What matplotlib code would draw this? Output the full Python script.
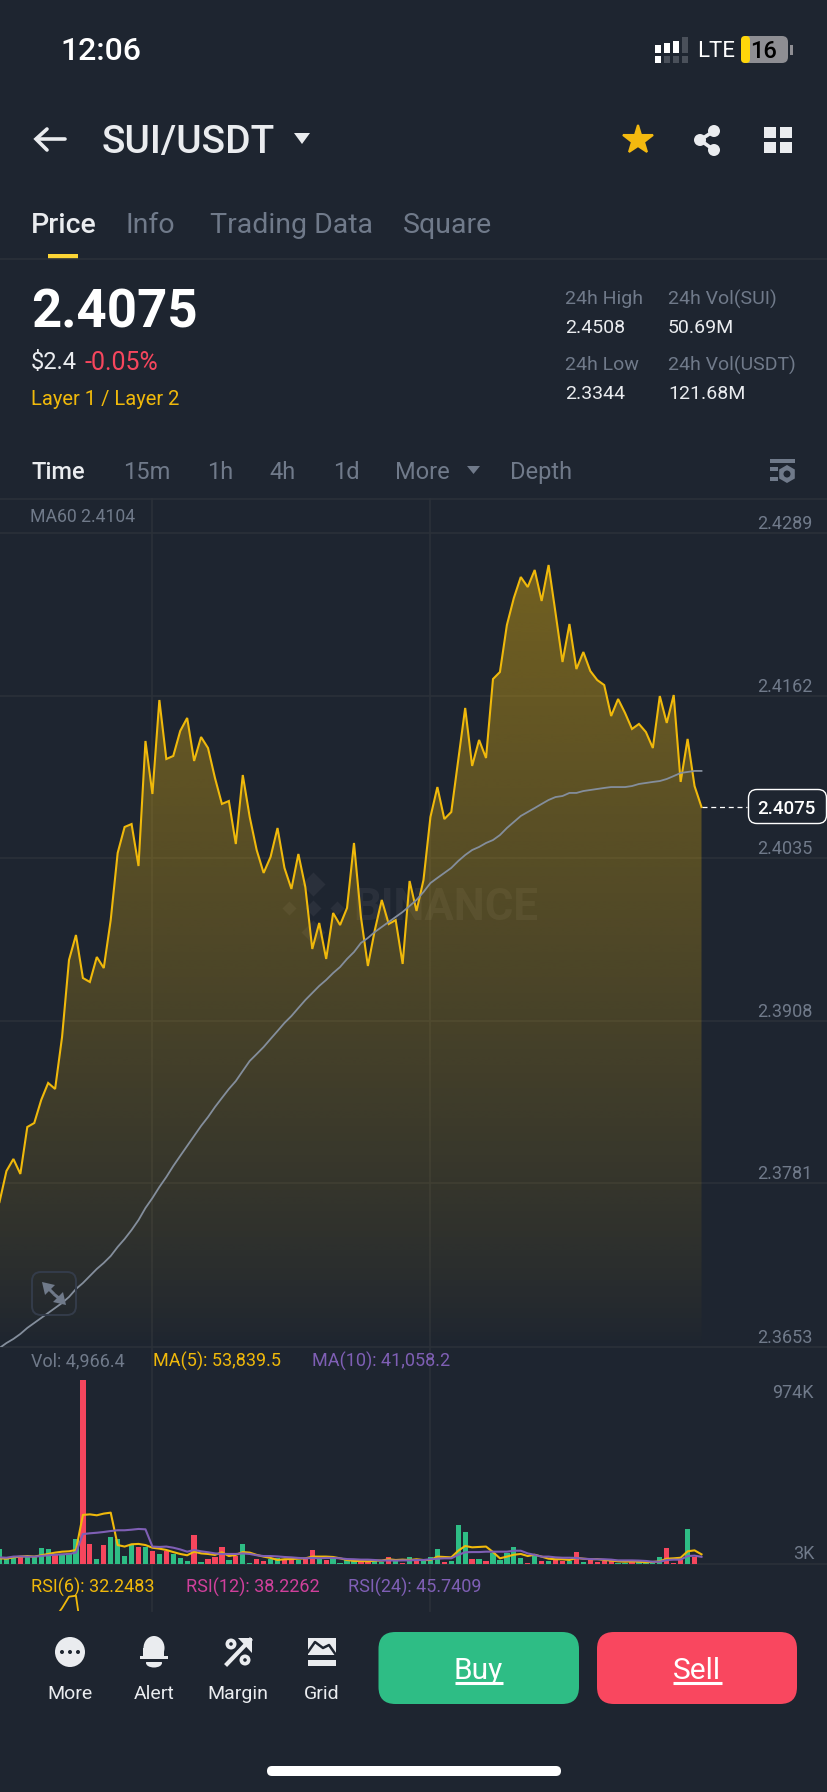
import numpy as np
import matplotlib
matplotlib.use("Agg")
import matplotlib.pyplot as plt
from matplotlib.patches import FancyBboxPatch, Rectangle, Circle, Ellipse, Polygon, RegularPolygon

# values
price = [
    2.37663, 2.37905, 2.37999, 2.37882, 2.38249, 2.38280, 2.38460, 2.38593, 2.38546, 2.38952,
    2.39554, 2.39749, 2.39413, 2.39382, 2.39577, 2.39491, 2.39866, 2.40390, 2.40593, 2.40616,
    2.40288, 2.41265, 2.40851, 2.41585, 2.41124, 2.41148, 2.41343, 2.41445, 2.41109, 2.41296,
    2.41210, 2.40976, 2.40773, 2.40796, 2.40460, 2.40999, 2.40671, 2.40413, 2.40234, 2.40359,
    2.40585, 2.40273, 2.40109, 2.40382, 2.40124, 2.39640, 2.39843, 2.39562, 2.39921, 2.39827,
    2.39960, 2.40468, 2.39890, 2.39507, 2.39788, 2.40023, 2.39835, 2.39866, 2.39523, 2.40171,
    2.39937, 2.40179, 2.40671, 2.40905, 2.40655, 2.40710, 2.41116, 2.41523, 2.41070, 2.41273,
    2.41132, 2.41749, 2.41804, 2.42171, 2.42382, 2.42546, 2.42468, 2.42601, 2.42359, 2.42640,
    2.42265, 2.41882, 2.42179, 2.41827, 2.41960, 2.41812, 2.41741, 2.41702, 2.41460, 2.41593,
    2.41484, 2.41359, 2.41398, 2.41335, 2.41210, 2.41616, 2.41406, 2.41624, 2.40945, 2.41281,
    2.40913, 2.40749,
]
ma60 = [
    2.36522, 2.36561, 2.36593, 2.36632, 2.36679, 2.36718, 2.36757, 2.36796, 2.36835, 2.36874,
    2.36921, 2.36983, 2.37030, 2.37085, 2.37140, 2.37187, 2.37241, 2.37312, 2.37374, 2.37444,
    2.37522, 2.37616, 2.37694, 2.37780, 2.37858, 2.37944, 2.38023, 2.38101, 2.38179, 2.38257,
    2.38327, 2.38405, 2.38476, 2.38546, 2.38608, 2.38687, 2.38765, 2.38819, 2.38874, 2.38937,
    2.38999, 2.39062, 2.39116, 2.39179, 2.39241, 2.39296, 2.39351, 2.39398, 2.39452, 2.39499,
    2.39562, 2.39616, 2.39687, 2.39726, 2.39773, 2.39812, 2.39851, 2.39890, 2.39929, 2.39976,
    2.40023, 2.40085, 2.40155, 2.40195, 2.40234, 2.40273, 2.40327, 2.40374, 2.40413, 2.40437,
    2.40468, 2.40491, 2.40530, 2.40585, 2.40632, 2.40679, 2.40710, 2.40741, 2.40773, 2.40804,
    2.40827, 2.40835, 2.40859, 2.40859, 2.40874, 2.40882, 2.40890, 2.40898, 2.40905, 2.40905,
    2.40905, 2.40913, 2.40929, 2.40937, 2.40945, 2.40952, 2.40968, 2.40991, 2.41015, 2.41023,
    2.41031, 2.41031,
]
# volume in thousands
volume = [
    80, 28, 45, 38, 38, 38, 86, 80, 51, 51,
    59, 135, 974, 107, 28, 103, 146, 137, 47, 109,
    95, 91, 73, 58, 73, 54, 36, 17, 156, 15,
    31, 40, 95, 26, 45, 109, 6, 31, 19, 28,
    33, 24, 28, 24, 28, 75, 31, 24, 33, 10,
    24, 17, 15, 17, 19, 15, 38, 21, 6, 38,
    21, 22, 38, 80, 14, 19, 207, 170, 29, 29,
    17, 59, 24, 59, 91, 35, 10, 56, 17, 19,
    28, 21, 21, 68, 14, 22, 15, 21, 17, 6,
    6, 15, 14, 6, 8, 38, 89, 6, 24, 188,
    42, 5,
]
vol_side = list("gggrggggrggg" "rrgrggggrgrg" "rgggrgrrrgrg" "grrggrrgrrgr"
                "ggggrrggrgrg" "rgggrgggrgrg" "ggggrgrgrrgr" "grrrrggrgggg" "rrrgrr")
vol_ma5 = [
    33, 31, 38, 42, 45, 42, 49, 56, 63, 68,
    70, 77, 262, 265, 260, 269, 274, 103, 95, 107,
    109, 103, 89, 84, 77, 66, 56, 49, 68, 59,
    56, 51, 65, 45, 51, 66, 63, 51, 42, 35,
    24, 28, 29, 31, 33, 42, 42, 42, 40, 33,
    24, 19, 19, 17, 21, 21, 28, 24, 26, 24,
    28, 24, 24, 42, 40, 38, 73, 98, 91, 93,
    95, 66, 33, 42, 52, 56, 45, 52, 42, 31,
    28, 28, 24, 35, 31, 28, 29, 24, 21, 17,
    15, 17, 15, 12, 14, 17, 31, 33, 36, 70,
    75, 54,
]
vol_ma10 = [
    38, 36, 42, 43, 42, 42, 45, 49, 52, 54,
    56, 63, 161, 165, 168, 172, 177, 181, 181, 184,
    188, 186, 95, 93, 95, 89, 80, 68, 77, 70,
    65, 59, 56, 56, 56, 59, 56, 49, 45, 45,
    43, 40, 38, 35, 33, 35, 33, 35, 35, 33,
    29, 28, 26, 26, 24, 21, 22, 21, 22, 22,
    24, 24, 28, 31, 33, 33, 51, 65, 66, 66,
    68, 68, 68, 68, 73, 73, 59, 51, 42, 42,
    38, 36, 36, 35, 31, 29, 28, 28, 26, 22,
    22, 22, 21, 19, 15, 15, 24, 26, 26, 45,
    47, 41,
]
rsi6_idx = [8, 9, 10, 11, 12]
rsi6 = [71, 81, 93, 94, 44]

price_ticks = [2.4289, 2.4162, 2.4035, 2.3908, 2.3781, 2.3653]
price_tick_labels = ["2.4289", "2.4162", "2.4035", "2.3908", "2.3781", "2.3653"]

tabs = ["Price", "Info", "Trading Data", "Square"]
intervals = ["Time", "15m", "1h", "4h", "1d", "More", "Depth"]
tools = ["More", "Alert", "Margin", "Grid"]

W, H = 828, 1792
BG = "#1E2530"
GRID = "#2B3139"
YELLOW = "#F0B90B"
GREEN = "#2EBD85"
RED = "#F6465D"
WHITE = "#EAECEF"
GRAY = "#707A8A"
PURPLE = "#7F5FB5"
PINK = "#D0409C"

plt.rcParams["font.family"] = ["Roboto", "DejaVu Sans"]

fig = plt.figure(figsize=(W / 100, H / 100), dpi=100, facecolor=BG)


def px_axes(top, bottom, z):
    a = fig.add_axes([0, 1 - bottom / H, 1, (bottom - top) / H], zorder=z)
    a.patch.set_alpha(0)
    for s in a.spines.values():
        s.set_visible(False)
    a.tick_params(length=0, labelleft=False, labelbottom=False)
    return a


ui = fig.add_axes([0, 0, 1, 1], zorder=0)
ui.set_xlim(0, W)
ui.set_ylim(H, 0)
ui.axis("off")


def label(x, y, s, size=13, color=WHITE, ha="left", weight="normal", z=5):
    # centre of the glyphs sits a bit below the centre of the text box
    ui.text(x, y + size * 0.1, s, fontsize=size, color=color, ha=ha, va="center", fontweight=weight, zorder=z)


def rbox(x0, y0, x1, y1, r, **kw):
    b = FancyBboxPatch((x0 + r, y0 + r), x1 - x0 - 2 * r, y1 - y0 - 2 * r,
                       boxstyle="round,pad=%f" % r, **kw)
    ui.add_patch(b)


# status bar
label(60, 49, "12:06", size=23, color="white", weight="medium")
for bx, top in zip([655, 664, 673], [45, 43, 41]):
    ui.add_patch(Rectangle((bx, top), 6, 53 - top, fc="white", ec="none"))
ui.add_patch(Rectangle((682, 37), 6, 16, fc="#4A505A", ec="none"))
ui.add_patch(Rectangle((655, 56), 6, 7, fc="white", ec="none"))
for bx in [664, 673, 682]:
    ui.add_patch(Rectangle((bx, 56), 6, 7, fc="#4A505A", ec="none"))
label(697, 50, "LTE", size=16, color="white")
rbox(741, 36, 788, 63, 6, fc="#8E8E93", ec="none")
rbox(741, 36, 750, 63, 4, fc="#FFD60A", ec="none")
label(764, 50, "16", size=17, color="black", ha="center", weight="medium")
ui.add_patch(Rectangle((790, 45), 3, 10, fc="#8E8E93", ec="none"))

# header
ui.plot([37, 65], [139, 139], color=WHITE, lw=2.6, solid_capstyle="round")
ui.plot([47, 36, 47], [129, 139, 150], color=WHITE, lw=2.6, solid_joinstyle="miter", solid_capstyle="round")
label(102, 140, "SUI/USDT", size=28, weight="medium")
ui.add_patch(Polygon([(294, 133), (310, 133), (302, 144)], fc=WHITE, ec="none"))
ui.plot([638], [140], marker="*", ms=22, color="#F3B90F", mec="#F3B90F", mew=1.5, mfc="#F3B90F", ls="none")
ui.plot([714, 700, 714], [131, 140, 150], color=WHITE, lw=2.6)
for cx, cy in [(714, 131), (700, 140), (714, 150)]:
    ui.add_patch(Circle((cx, cy), 6, fc=WHITE, ec="none"))
for sx in [764, 780]:
    for sy in [127, 142]:
        ui.add_patch(Rectangle((sx, sy), 12.5, 11.5, fc=WHITE, ec="none"))

# tabs
for s, tx in zip(tabs, [31, 126, 210, 403]):
    label(tx, 223, s, size=20.5, color=WHITE if s == "Price" else GRAY, weight="medium" if s == "Price" else "normal")
ui.add_patch(Rectangle((48, 254), 30, 5, fc="#FCD535", ec="none"))
ui.plot([0, W], [259.5, 259.5], color=GRID, lw=1.2)

# ticker block
label(31, 309, "2.4075", size=38, color="white", weight="bold")
label(31, 361, "$2.4", size=17, color=WHITE)
label(85, 361, "-0.05%", size=18, color=RED)
label(31, 398, "Layer 1 / Layer 2", size=14.5, color=YELLOW)
label(565, 298, "24h High", size=14, color=GRAY)
label(668, 298, "24h Vol(SUI)", size=14, color=GRAY)
label(565, 327, "2.4508", size=14)
label(668, 327, "50.69M", size=14)
label(565, 364, "24h Low", size=14, color=GRAY)
label(668, 364, "24h Vol(USDT)", size=14, color=GRAY)
label(565, 393, "2.3344", size=14)
label(668, 393, "121.68M", size=14)

# interval row
for s, tx in zip(intervals, [32, 123, 207, 269, 333, 395, 510]):
    label(tx, 471, s, size=17, color=WHITE if s == "Time" else GRAY, weight="medium" if s == "Time" else "normal")
ui.add_patch(Polygon([(467, 466), (480, 466), (473.5, 474)], fc=GRAY, ec="none"))
ui.add_patch(Rectangle((770, 459), 25, 4, fc=GRAY, ec="none"))
ui.add_patch(Rectangle((770, 467), 8, 4, fc=GRAY, ec="none"))
ui.add_patch(Rectangle((770, 477), 8, 4, fc=GRAY, ec="none"))
ui.add_patch(RegularPolygon((787, 474), 6, radius=9, fc=GRAY, ec="none"))
ui.add_patch(Circle((787, 474), 3.5, fc=BG, ec="none"))
ui.plot([0, W], [499.5, 499.5], color=GRID, lw=1.2)

# vertical grid lines cross all the panels
for vx in [152, 430]:
    ui.plot([vx, vx], [499, 1611], color=GRID, lw=1.2, zorder=1)

# watermark
wm = (1, 1, 1, 0.055)
ui.text(353, 908, "BINANCE", fontsize=31.5, fontweight="bold", color=wm, va="center", zorder=1)
for dx, dy, ms in [(0, -24, 12), (-24, 0, 7), (24, 0, 7), (0, 0, 8), (0, 24, 12)]:
    ui.plot([313 + dx], [908 + dy], marker="D", ms=ms, color=wm, mec="none", zorder=1)

x = np.arange(len(price))

# price panel: 2.4289 at y=533 and 2.3653 at y=1347
ax = px_axes(499, 1347, 2)
per_px = (2.4289 - 2.3653) / 814
ax.set_xlim(0.072, 119.2)
y_top, y_bot = 2.4289 + 34 * per_px, 2.3653
im_h = 256
t = np.linspace(1, 0, im_h)[:, None]
rgba = np.zeros((im_h, 1, 4))
rgba[..., :3] = matplotlib.colors.to_rgb(YELLOW)
rgba[..., 3] = 0.40 * t ** 0.8
poly = ax.fill_between(x, price, y_bot, color="none")
im = ax.imshow(rgba, extent=[x[0], x[-1], y_bot, max(price)], aspect="auto", zorder=2, interpolation="bilinear")
im.set_clip_path(poly.get_paths()[0], transform=ax.transData)
ax.set_xlim(0.072, 119.2)
ax.set_ylim(y_bot, y_top)
ax.set_yticks(price_ticks[:-1])
ax.grid(axis="y", color=GRID, lw=1.2, zorder=1)
ax.set_axisbelow(True)
ax.plot(x, price, color=YELLOW, lw=1.5, zorder=3, solid_joinstyle="miter")
ax.plot(x, ma60, color="#848E9C", lw=1.3, zorder=4)
ax.plot([x[-1], 107.6], [price[-1], price[-1]], color="white", lw=0.9, ls=(0, (4, 3)), zorder=4)
for tick, s in zip(price_ticks, price_tick_labels):
    ax.annotate(s, (1, tick), xycoords=("axes fraction", "data"), xytext=(-11, 6.5),
                textcoords="offset points", ha="right", va="center", fontsize=13, color=GRAY)
ui.plot([0, W], [1347, 1347], color=GRID, lw=1.2, zorder=1)

label(30, 516, "MA60 2.4104", size=12.7, color=GRAY)

# current price tag and expand button sit over the chart
over = fig.add_axes([0, 0, 1, 1], zorder=6)
over.set_xlim(0, W)
over.set_ylim(H, 0)
over.axis("off")
over.add_patch(FancyBboxPatch((757, 798), 61, 17, boxstyle="round,pad=8.5", fc=BG, ec="white", lw=1))
over.text(786, 808.5, "2.4075", fontsize=13.5, color="white", ha="center", va="center", fontweight="medium")
over.add_patch(FancyBboxPatch((41, 1281), 26, 25, boxstyle="round,pad=9", fc="none", ec="#343C4A", lw=1.4))
over.add_patch(Polygon([(42, 1282), (55, 1285), (45, 1295)], fc=GRAY, ec="none"))
over.add_patch(Polygon([(66, 1305), (53, 1302), (63, 1292)], fc=GRAY, ec="none"))
over.plot([48, 53], [1288, 1293], color=GRAY, lw=2.2)
over.plot([55, 60], [1295, 1299], color=GRAY, lw=2.2)

# volume panel: 3K at y=1564, 974K at y=1380
vax = px_axes(1347, 1564, 2)
vax.set_xlim(0.072, 119.2)
vax.set_ylim(3, 3 + 217 * (974 - 3) / 184)
vax.bar(x, volume, width=0.76, color=[GREEN if c == "g" else RED for c in vol_side], zorder=2)
vax.plot(x, vol_ma5, color=YELLOW, lw=1.5, zorder=3)
vax.plot(x, vol_ma10, color=PURPLE, lw=1.5, zorder=4)
ui.plot([0, W], [1564.5, 1564.5], color=GRID, lw=1.2, zorder=1)
label(31, 1360, "Vol: 4,966.4", size=13, color=GRAY)
label(153, 1360, "MA(5): 53,839.5", size=13, color=YELLOW)
label(312, 1360, "MA(10): 41,058.2", size=13, color=PURPLE)
label(814, 1392, "974K", size=13, color=GRAY, ha="right")
label(815, 1553, "3K", size=13, color=GRAY, ha="right")

# rsi panel, only the tip of RSI(6) is still on screen
rax = px_axes(1590, 1611, 2)
rax.set_xlim(0.072, 119.2)
rax.set_ylim(78, 100)
rax.plot(rsi6_idx, rsi6, color=YELLOW, lw=1.3)
label(31, 1586, "RSI(6): 32.2483", size=13, color=YELLOW)
label(186, 1586, "RSI(12): 38.2262", size=13, color=PINK)
label(348, 1586, "RSI(24): 45.7409", size=13, color=PURPLE)

# toolbar icons
ui.add_patch(Circle((70, 1652), 15, fc=WHITE, ec="none"))
for dx in [-8, 0, 8]:
    ui.add_patch(Circle((70 + dx, 1652), 2, fc=BG, ec="none"))
ui.add_patch(Ellipse((154, 1648), 21, 24, fc=WHITE, ec="none"))
ui.add_patch(Rectangle((143.5, 1648), 21, 10, fc=WHITE, ec="none"))
ui.add_patch(Rectangle((140, 1656), 28, 3, fc=WHITE, ec="none"))
ui.add_patch(Ellipse((154, 1663), 16, 9, fc=WHITE, ec="none"))
ui.add_patch(Rectangle((140, 1659), 28, 3, fc=BG, ec="none"))
ui.plot([227, 250], [1664, 1640], color=WHITE, lw=3)
ui.add_patch(Polygon([(238, 1638), (252, 1638), (252, 1653)], fc=WHITE, ec="none"))
ui.add_patch(Circle((231, 1644), 5.5, fc=WHITE, ec="none"))
ui.add_patch(Circle((231, 1644), 1.8, fc=BG, ec="none"))
ui.add_patch(Circle((245, 1660), 5.5, fc=WHITE, ec="none"))
ui.add_patch(Circle((245, 1660), 1.8, fc=BG, ec="none"))
ui.add_patch(Polygon([(308, 1638), (336, 1638), (336, 1655), (308, 1655)], fc=WHITE, ec="none"))
ui.plot([308, 315, 323, 329, 336], [1652, 1642, 1648, 1645, 1655], color=BG, lw=1.8)
ui.add_patch(Rectangle((308, 1660), 28, 6, fc=WHITE, ec="none"))
for s, cx in zip(tools, [70, 154, 238, 322]):
    label(cx, 1693, s, size=14, ha="center")

# buy and sell
rbox(378.5, 1632, 579, 1704, 17, fc=GREEN, ec="none")
rbox(597, 1632, 797, 1704, 17, fc="#F9475F", ec="none")
label(478.5, 1669, "Buy", size=21.5, color="white", ha="center")
label(697, 1669, "Sell", size=21.5, color="white", ha="center")
ui.plot([455, 503], [1683.5, 1683.5], color="white", lw=2.2, solid_capstyle="butt")
ui.plot([673, 722], [1683.5, 1683.5], color="white", lw=2.2, solid_capstyle="butt")

# home indicator
rbox(267, 1766, 561, 1776, 5, fc="white", ec="none")

fig.savefig("out.png", dpi=100, facecolor=BG)
